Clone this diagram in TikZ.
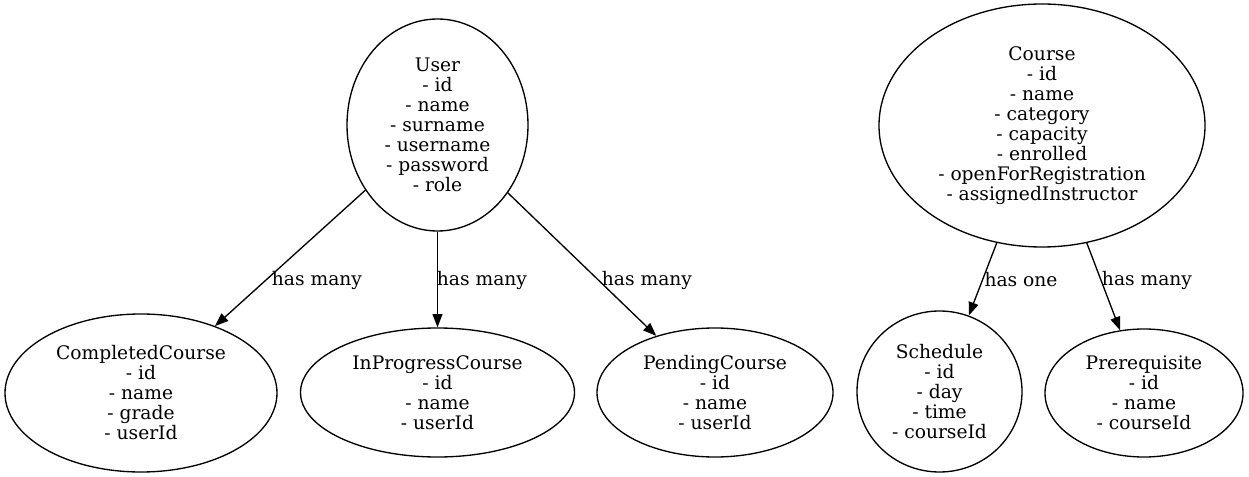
\documentclass[tikz,border=0pt]{standalone}
\usepackage{fontspec}
\setmainfont{DejaVu Serif}
\usetikzlibrary{shapes.geometric,arrows.meta}

\tikzset{every picture/.style={line width=1pt}}
\tikzset{
    entity/.style={draw, ellipse, inner sep=0, align=center, font=\fontsize{14}{15}\selectfont},
    rel/.style={-{Triangle[length=10pt,width=7.5pt]}},
    rellabel/.style={inner sep=0, font=\fontsize{14}{15}\selectfont}
}

\begin{document}
\begin{tikzpicture}[x=0.75pt,y=0.75pt,yscale=-1,xscale=1]
    \useasboundingbox (0,0) rectangle (1249,477); %set diagram to the size of the graph

    %Shape: Ellipse [User]
    \node (user) [entity, minimum width=135.75pt, minimum height=159pt] at (437.5,125)
        {User\\- id\\- name\\- surname\\- username\\- password\\- role};
    %Shape: Ellipse [Course]
    \node (course) [entity, minimum width=244.5pt, minimum height=182.25pt] at (1042,125.5)
        {Course\\- id\\- name\\- category\\- capacity\\- enrolled\\- openForRegistration\\- assignedInstructor};

    %Shape: Ellipse [CompletedCourse]
    \node (completed) [entity, minimum width=204pt, minimum height=118.5pt] at (141,393)
        {CompletedCourse\\- id\\- name\\- grade\\- userId};
    %Shape: Ellipse [InProgressCourse]
    \node (inprogress) [entity, minimum width=205.5pt, minimum height=96.75pt] at (437.5,392.5)
        {InProgressCourse\\- id\\- name\\- userId};
    %Shape: Ellipse [PendingCourse]
    \node (pending) [entity, minimum width=177pt, minimum height=96.75pt] at (715,392.5)
        {PendingCourse\\- id\\- name\\- userId};
    %Shape: Ellipse [Schedule]
    \node (schedule) [entity, minimum width=123.75pt, minimum height=120.75pt] at (939.5,391.5)
        {Schedule\\- id\\- day\\- time\\- courseId};
    %Shape: Ellipse [Prerequisite]
    \node (prereq) [entity, minimum width=148.5pt, minimum height=96pt] at (1144,393)
        {Prerequisite\\- id\\- name\\- courseId};

    %Straight Lines
    \draw [rel] (user) -- (completed);
    \draw [rel] (user) -- (inprogress);
    \draw [rel] (user) -- (pending);
    \draw [rel] (course) -- (schedule);
    \draw [rel] (course) -- (prereq);

    % Text Node
    \node (lblcompleted) [rellabel] at (317,280) {has many};
    % Text Node
    \node (lblinprogress) [rellabel] at (482,280) {has many};
    % Text Node
    \node (lblpending) [rellabel] at (647,280) {has many};
    % Text Node
    \node (lblschedule) [rellabel] at (1021,280) {has one};
    % Text Node
    \node (lblprereq) [rellabel] at (1147,280) {has many};
\end{tikzpicture}
\end{document}
